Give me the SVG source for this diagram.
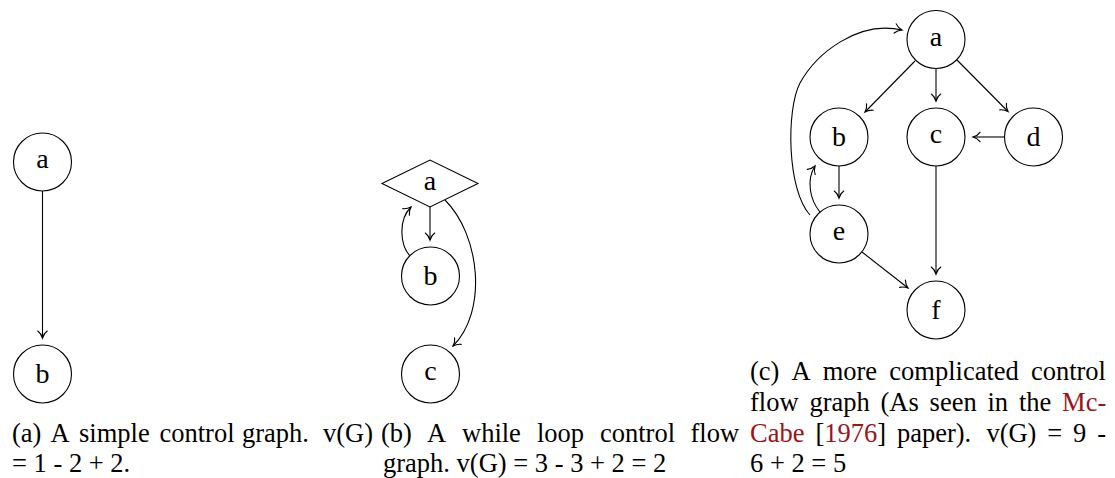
<svg xmlns="http://www.w3.org/2000/svg" width="1115" height="478" viewBox="0 0 1115 478">
  <style>
    .node { fill: #ffffff; stroke: #000000; stroke-width: 1.1; }
    .lbl { font-family: "Liberation Serif", "Times New Roman", serif; font-size: 28px; fill: #000000; text-anchor: middle; }
    .edge { fill: none; stroke: #000000; stroke-width: 1.1; marker-end: url(#tip); }
    .cap { font-family: "Liberation Serif", "Times New Roman", serif; font-size: 26.5px; fill: #000000; }
    .ref { fill: #9b1515; }
  </style>
  <defs>
    <!-- curved open arrow tip -->
    <marker id="tip" markerUnits="userSpaceOnUse" markerWidth="12" markerHeight="12" viewBox="-8 -6 10 12" refX="0" refY="0" orient="auto" overflow="visible">
      <path d="M -7,-4.7 C -5.3,-2.4 -2.2,-0.7 0,0 C -2.2,0.7 -5.3,2.4 -7,4.7" fill="none" stroke="#000000" stroke-width="1.15" stroke-linecap="round"/>
    </marker>
  </defs>
  <rect width="1115" height="478" fill="#ffffff"/>

  <!-- connectors -->
  <g id="connectors">
    <!-- graph (a) -->
    <path class="edge" d="M 42.5,191 L 42.5,338"/>
    <!-- graph (b) -->
    <path class="edge" d="M 430,207 L 430,240"/>
    <path class="edge" d="M 410,256 C 400,245 398,220 411,207"/>
    <path class="edge" d="M 445,200 C 480,235 488,311 453,346"/>
    <!-- graph (c) -->
    <path class="edge" d="M 915,61 L 865,112"/>
    <path class="edge" d="M 936,68.5 L 936,101"/>
    <path class="edge" d="M 957,60 L 1008,111.5"/>
    <path class="edge" d="M 1004.5,137 L 973,137"/>
    <path class="edge" d="M 839,166 L 839,198"/>
    <path class="edge" d="M 936,166 L 936,274"/>
    <path class="edge" d="M 862,252 L 908,288"/>
    <path class="edge" d="M 820,212 C 810,200 806,180 815,166"/>
    <path class="edge" d="M 810,215 C 787,190 786,110 800,83 C 816.5,53.3 858,20 902,30"/>
  </g>

  <!-- graph (a) nodes -->
  <g id="ga-a"><circle class="node" cx="42.5" cy="162" r="29"/><text class="lbl" x="42.5" y="168">a</text></g>
  <g id="ga-b"><circle class="node" cx="42.5" cy="374" r="29"/><text class="lbl" x="42.5" y="383">b</text></g>

  <!-- graph (b) nodes -->
  <g id="gb-a"><polygon class="node" points="382,183.5 430,160 478,183.5 430,207"/><text class="lbl" x="430" y="190">a</text></g>
  <g id="gb-b"><circle class="node" cx="430.5" cy="276" r="29"/><text class="lbl" x="430.5" y="285">b</text></g>
  <g id="gb-c"><circle class="node" cx="430.5" cy="374" r="29"/><text class="lbl" x="430.5" y="380">c</text></g>

  <!-- graph (c) nodes -->
  <g id="gc-a"><circle class="node" cx="936" cy="39.5" r="29"/><text class="lbl" x="936" y="45.5">a</text></g>
  <g id="gc-b"><circle class="node" cx="839" cy="137" r="29"/><text class="lbl" x="839" y="146">b</text></g>
  <g id="gc-c"><circle class="node" cx="936" cy="137" r="29"/><text class="lbl" x="936" y="143">c</text></g>
  <g id="gc-d"><circle class="node" cx="1033.5" cy="137" r="29"/><text class="lbl" x="1033.5" y="146">d</text></g>
  <g id="gc-e"><circle class="node" cx="839" cy="234" r="29"/><text class="lbl" x="839" y="240">e</text></g>
  <g id="gc-f"><circle class="node" cx="936" cy="310" r="29"/><text class="lbl" x="936" y="319">f</text></g>

  <!-- captions (justified lines: one tspan per word) -->
  <g id="caption-a" class="cap">
    <text y="441.5"><tspan x="12">(a)</tspan><tspan x="50.5">A</tspan><tspan x="79">simple</tspan><tspan x="159.5">control</tspan><tspan x="242">graph.</tspan><tspan x="323">v(G)</tspan></text>
    <text x="12" y="472">= 1 - 2 + 2.</text>
  </g>
  <g id="caption-b" class="cap">
    <text y="441.5"><tspan x="381">(b)</tspan><tspan x="427">A</tspan><tspan x="462">while</tspan><tspan x="537">loop</tspan><tspan x="600">control</tspan><tspan x="690.5">flow</tspan></text>
    <text x="383" y="472">graph. v(G) = 3 - 3 + 2 = 2</text>
  </g>
  <g id="caption-c" class="cap">
    <text y="380"><tspan x="750">(c)</tspan><tspan x="791.5">A</tspan><tspan x="822.7">more</tspan><tspan x="889.3">complicated</tspan><tspan x="1030.9">control</tspan></text>
    <text y="410.5"><tspan x="750">flow</tspan><tspan x="809.4">graph</tspan><tspan x="880.5">(As</tspan><tspan x="929.6">seen</tspan><tspan x="987.5">in</tspan><tspan x="1018.9">the</tspan><tspan x="1062.1" class="ref">Mc-</tspan></text>
    <text y="441.5"><tspan x="750" class="ref">Cabe</tspan><tspan x="815.4">[</tspan><tspan class="ref">1976</tspan><tspan>]</tspan><tspan x="896.9">paper).</tspan><tspan x="986.4">v(G)</tspan><tspan x="1047.3">=</tspan><tspan x="1073.1">9</tspan><tspan x="1097.3">-</tspan></text>
    <text x="750" y="472">6 + 2 = 5</text>
  </g>
</svg>
